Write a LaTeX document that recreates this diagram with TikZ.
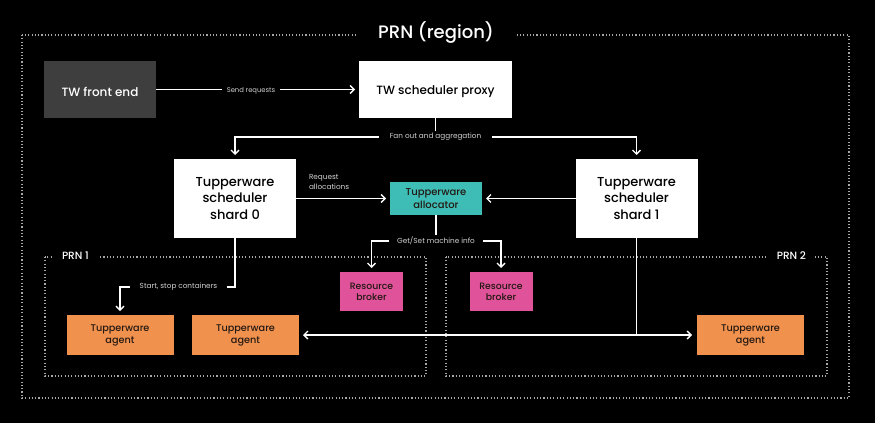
\documentclass[tikz,border=0pt]{standalone}
\usepackage{fontspec}
\setmainfont{Poppins}
\newfontfamily\pmed{Poppins Medium}
\usetikzlibrary{arrows.meta,calc}
\definecolor{fegray}{HTML}{3E3E3E}
\definecolor{tealc}{HTML}{3DBDB5}
\definecolor{magc}{HTML}{E0529A}
\definecolor{orc}{HTML}{F0914E}
\definecolor{dotc}{HTML}{A8A8A8}
\definecolor{lblc}{HTML}{D2D2D2}
\definecolor{darktxt}{HTML}{231812}
\begin{document}
\begin{tikzpicture}[x=1pt,y=-1pt,
  every node/.style={inner sep=0pt,outer sep=0pt},
  box/.style={draw=none,align=center,font=\pmed,execute at begin node={\rule{0pt}{1.1em}}},
  whitebox/.style={box,fill=white,text=black},
  febox/.style={box,fill=fegray,text=white,font=\pmed\fontsize{12}{14}\selectfont},
  shardbox/.style={whitebox,font=\pmed\fontsize{13}{16.5}\selectfont,minimum width=122pt,minimum height=79pt},
  allocbox/.style={box,fill=tealc,text=darktxt,font=\pmed\fontsize{10}{13.5}\selectfont,minimum width=92pt,minimum height=33pt},
  rbbox/.style={box,fill=magc,text=darktxt,font=\pmed\fontsize{9.3}{11}\selectfont,minimum width=63pt,minimum height=39pt},
  agbox/.style={box,fill=orc,text=darktxt,font=\pmed\fontsize{9.7}{12}\selectfont,minimum width=107pt,minimum height=40pt},
  conn/.style={draw=white,line width=1.4pt},
  arr/.style={conn,-{Straight Barb[length=4pt,width=8pt,line width=1.4pt]},shorten >=4pt},
  darr/.style={conn,{Straight Barb[length=4pt,width=8pt,line width=1.4pt]}-{Straight Barb[length=4pt,width=8pt,line width=1.4pt]},shorten >=5pt,shorten <=4pt},
  lbl/.style={fill=black,text=lblc,font=\fontsize{7.3}{9}\selectfont,inner xsep=10pt,inner ysep=2pt},
  dotbox/.style={draw=dotc,line width=1.1pt,dash pattern=on 1.1pt off 2.2pt},
  prnlbl/.style={fill=black,text=white,font=\pmed\fontsize{10.5}{12}\selectfont,inner xsep=9pt,inner ysep=2pt}
]
\useasboundingbox[fill=black] (0,0) rectangle (875,423);

% outer region
\draw[dotbox] (22,35) rectangle (849,398);
\node[fill=black,text=white,font=\pmed\fontsize{18}{20}\selectfont,inner xsep=22pt,inner ysep=3pt] (title) at (436,33) {PRN (region)};

% PRN sub-regions
\draw[dotbox] (45,257) rectangle (426,376);
\node[prnlbl,anchor=west] (prn1) at (53,256) {PRN 1};
\draw[dotbox] (446,257) rectangle (827,376);
\node[prnlbl,anchor=east] (prn2) at (815,256) {PRN 2};

% nodes
\node[febox,minimum width=112pt,minimum height=57pt] (fe) at (100,89.5) {TW front end};
\node[whitebox,font=\pmed\fontsize{12}{14}\selectfont,minimum width=153pt,minimum height=57pt] (proxy) at (435.5,89.5) {TW scheduler proxy};
\node[shardbox] (s0) at (235,198.5) {Tupperware\\scheduler\\shard 0};
\node[shardbox] (s1) at (636.5,198.5) {Tupperware\\scheduler\\shard 1};
\node[allocbox] (alloc) at (436,198.5) {Tupperware\\allocator};
\node[rbbox] (rb1) at (371.5,291.5) {Resource\\broker};
\node[rbbox] (rb2) at (501,291.5) {Resource\\broker};
\node[agbox] (a1) at (120,335) {Tupperware\\agent};
\node[agbox] (a2) at (245.5,335) {Tupperware\\agent};
\node[agbox] (a3) at (750.5,335) {Tupperware\\agent};

% send requests
\draw[arr] (fe.east) -- (proxy.west);
\node[lbl,font=\fontsize{6.8}{9}\selectfont,inner xsep=5pt] (sendlbl) at (251,91) {Send requests};

% fan out
\coordinate (fan) at (proxy.south |- 0,137);
\draw[conn] (proxy.south) -- (fan);
\draw[arr] (fan) -| (s0.north);
\draw[arr] (fan) -| (s1.north);
\node[lbl,inner xsep=11pt] (fanlbl) at (fan) {Fan out and aggregation};

% request allocations
\draw[arr] (s0.east |- alloc.west) -- (alloc.west);
\draw[arr] (s1.west |- alloc.east) -- (alloc.east);
\node[text=lblc,font=\fontsize{7.3}{10}\selectfont,align=left,anchor=west] (reqlbl) at (309,182) {Request\\allocations};

% get/set machine info
\coordinate (gs) at (alloc.south |- 0,241);
\draw[conn] (alloc.south) -- (gs);
\draw[arr] (gs) -| (rb1.north);
\draw[arr] (gs) -| (rb2.north);
\node[lbl,inner xsep=8pt] (gslbl) at (gs) {Get/Set machine info};

% start, stop containers
\coordinate (ss) at (a1.north |- 0,287);
\draw[arr] (s0.south) |- (ss) -- (a1.north);
\node[lbl] (sslbl) at (178.5,287) {Start, stop containers};

% shard 1 to agents
\coordinate (j) at (s1.south |- a3.west);
\draw[conn] (s1.south) -- (j);
\draw[darr] (a2.east) -- (a3.west);
\end{tikzpicture}
\end{document}
